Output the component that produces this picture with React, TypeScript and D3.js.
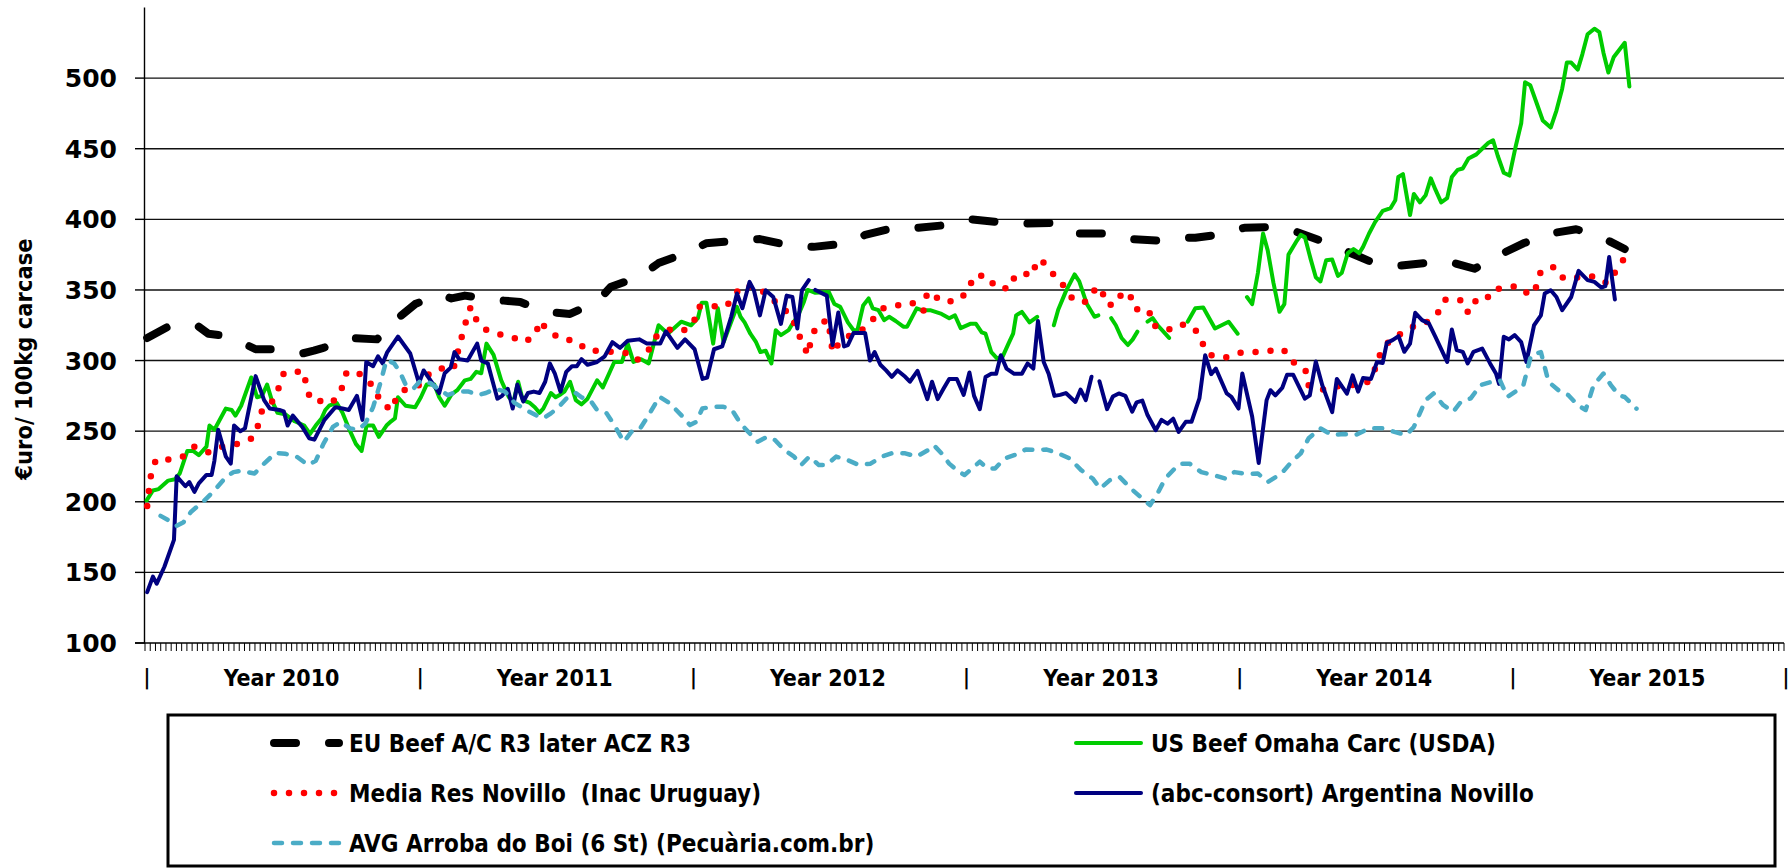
import React from "react";
import * as d3 from "d3";

// time is given in years since Jan 2010 (weekly data)
const yearLabels = ["Year 2010", "Year 2011", "Year 2012", "Year 2013", "Year 2014", "Year 2015"];
const yTicks = [100, 150, 200, 250, 300, 350, 400, 450, 500];

const euBeef = [
  [0.008, 316], [0.085, 324], [0.19, 325], [0.232, 319], [0.275, 318], [0.373, 311], [0.405, 308], [0.464, 308],
  [0.576, 305], [0.618, 307], [0.653, 309], [0.751, 316], [0.849, 315], [0.926, 330], [0.989, 340], [1.08, 347],
  [1.122, 344], [1.171, 346], [1.276, 343], [1.374, 341.5], [1.465, 334.5], [1.556, 333], [1.655, 341.5], [1.704, 352],
  [1.816, 360], [1.88, 369], [1.991, 377], [2.054, 383], [2.18, 385], [2.251, 386], [2.37, 381], [2.447, 380.5],
  [2.573, 383], [2.636, 389], [2.741, 394], [2.825, 394], [2.937, 396], [3.021, 400], [3.126, 398], [3.217, 397],
  [3.329, 397.5], [3.406, 390], [3.518, 390], [3.602, 386], [3.707, 385], [3.788, 387], [3.845, 387], [3.924, 389],
  [4.024, 394], [4.11, 394.5], [4.217, 391], [4.303, 385], [4.403, 377], [4.488, 370], [4.588, 367], [4.681, 369],
  [4.774, 370], [4.867, 365], [4.96, 375], [5.046, 383], [5.146, 390], [5.239, 393], [5.331, 387.5], [5.417, 379],
];

const usBeef = [
  [0.006, 201], [0.029, 208], [0.05, 209], [0.085, 215], [0.11, 216], [0.127, 220], [0.155, 236], [0.176, 236],
  [0.197, 233], [0.225, 239], [0.236, 254], [0.254, 251], [0.296, 266], [0.317, 265], [0.331, 261], [0.352, 268],
  [0.389, 288], [0.41, 274], [0.428, 275], [0.447, 283], [0.464, 272], [0.485, 263], [0.513, 262], [0.548, 257],
  [0.583, 254], [0.604, 248], [0.625, 254], [0.646, 259], [0.66, 265], [0.674, 268], [0.702, 270], [0.723, 263],
  [0.746, 252], [0.772, 241], [0.793, 236], [0.811, 254], [0.835, 254], [0.856, 246], [0.884, 254], [0.901, 257],
  [0.915, 259], [0.926, 274], [0.954, 268], [0.989, 267], [1.01, 274], [1.031, 283], [1.059, 283], [1.077, 274],
  [1.097, 268], [1.122, 276], [1.143, 279], [1.171, 286], [1.192, 287], [1.213, 292], [1.231, 291], [1.25, 312],
  [1.276, 304], [1.304, 286], [1.332, 274], [1.349, 271], [1.366, 285], [1.383, 272], [1.409, 270], [1.427, 267],
  [1.444, 263], [1.458, 266], [1.486, 277], [1.503, 274], [1.521, 276], [1.535, 278], [1.556, 285], [1.577, 272],
  [1.598, 269], [1.62, 273], [1.655, 286], [1.676, 281], [1.718, 299], [1.746, 299], [1.767, 312], [1.788, 299],
  [1.816, 301], [1.844, 298], [1.88, 325], [1.914, 319], [1.963, 327.5], [1.999, 325], [2.024, 330], [2.038, 341],
  [2.055, 341], [2.08, 312], [2.097, 337], [2.118, 313], [2.153, 331], [2.167, 338], [2.18, 331], [2.195, 327],
  [2.216, 319], [2.237, 313], [2.253, 306], [2.272, 307], [2.293, 298], [2.309, 321.5], [2.328, 318], [2.356, 321.5],
  [2.37, 326], [2.391, 332], [2.412, 341.5], [2.426, 350], [2.454, 348], [2.503, 348.6], [2.524, 340], [2.545, 338],
  [2.573, 327], [2.594, 321.5], [2.608, 321.5], [2.629, 339], [2.649, 344], [2.664, 337], [2.685, 335.7], [2.706, 328.6],
  [2.724, 331], [2.748, 328], [2.776, 324], [2.79, 324], [2.825, 337], [2.843, 335.7], [2.874, 335.7], [2.916, 333],
  [2.944, 330], [2.965, 332], [2.986, 323], [3.021, 326], [3.042, 326], [3.063, 320], [3.077, 319], [3.098, 306],
  [3.119, 301.5], [3.14, 303], [3.161, 312], [3.178, 319], [3.189, 332], [3.21, 334.5], [3.238, 327], [3.266, 331],
  [3.29, null],
  [3.327, 325], [3.343, 336], [3.371, 349], [3.403, 361], [3.42, 356], [3.448, 340], [3.476, 331], [3.49, 332],
  [3.51, null],
  [3.537, 330], [3.554, 325], [3.575, 316], [3.598, 311], [3.616, 315], [3.633, 320.5],
  [3.65, null],
  [3.67, 327.5], [3.689, 330], [3.707, 325], [3.749, 316],
  [3.78, null],
  [3.817, 327.5], [3.845, 337], [3.874, 337.6], [3.917, 322.7], [3.967, 327.5], [4.0, 319],
  [4.02, null],
  [4.034, 345], [4.053, 340], [4.074, 362], [4.093, 390], [4.11, 378], [4.131, 355], [4.153, 334.5], [4.171, 340],
  [4.186, 375], [4.217, 385], [4.231, 389], [4.246, 387.5], [4.267, 372], [4.286, 359], [4.303, 356], [4.324, 371],
  [4.346, 371.5], [4.367, 360], [4.381, 362], [4.403, 376], [4.424, 379], [4.445, 376], [4.459, 380.5], [4.481, 390],
  [4.503, 398], [4.531, 406], [4.56, 408], [4.577, 413.5], [4.588, 430], [4.605, 432], [4.631, 403], [4.645, 418],
  [4.667, 412], [4.688, 417], [4.707, 429], [4.724, 421], [4.745, 412], [4.767, 415], [4.784, 430], [4.805, 435],
  [4.824, 436], [4.845, 443], [4.874, 446], [4.895, 450], [4.917, 454], [4.935, 456], [4.952, 445], [4.974, 433],
  [4.995, 431], [5.017, 451], [5.038, 468], [5.052, 497], [5.071, 495], [5.095, 482], [5.117, 470], [5.146, 465],
  [5.167, 477], [5.188, 492.5], [5.205, 511], [5.221, 511], [5.245, 506], [5.262, 517], [5.281, 531], [5.306, 535],
  [5.324, 532.5], [5.339, 518], [5.357, 504], [5.377, 515], [5.417, 525], [5.434, 494],
];

const uruguay = [
  [0.008, 197], [0.015, 209], [0.022, 219], [0.04, 230], [0.092, 230], [0.138, 232], [0.18, 239], [0.232, 235],
  [0.281, 239], [0.34, 241], [0.393, 245], [0.416, 255], [0.43, 266], [0.472, 272], [0.492, 282], [0.508, 291],
  [0.536, 292], [0.583, 292], [0.59, 281], [0.608, 272], [0.657, 271], [0.685, 270], [0.718, 279], [0.737, 291],
  [0.76, 293], [0.802, 289], [0.842, 280], [0.863, 270], [0.905, 265], [0.922, 275], [0.957, 280], [1.01, 283],
  [1.045, 292], [1.097, 295], [1.129, 294], [1.157, 315], [1.174, 327], [1.192, 338], [1.206, 331], [1.234, 323],
  [1.287, 319], [1.339, 317], [1.388, 313], [1.43, 318], [1.444, 328], [1.482, 320], [1.528, 315], [1.577, 314],
  [1.62, 307], [1.669, 307], [1.711, 306], [1.758, 305.5], [1.799, 300], [1.842, 307], [1.872, 317], [1.922, 322],
  [1.97, 321], [2.009, 327], [2.024, 338], [2.075, 338.5], [2.129, 338.5], [2.16, 347], [2.187, 353], [2.236, 352],
  [2.289, 345.6], [2.321, 338.5], [2.363, 332.6], [2.388, 321.5], [2.408, 311], [2.429, 304], [2.437, 315], [2.461, 325.7],
  [2.5, 328.6], [2.51, 317], [2.517, 305.7], [2.531, 310], [2.573, 317], [2.624, 321.5], [2.664, 329], [2.702, 337],
  [2.754, 339], [2.808, 341], [2.849, 334.5], [2.86, 345.6], [2.874, 349], [2.913, 342], [2.972, 342], [3.011, 348.6],
  [3.035, 360], [3.081, 360], [3.116, 351.5], [3.165, 351], [3.185, 360], [3.214, 362], [3.248, 360], [3.266, 371.5],
  [3.29, 369.4], [3.326, 361], [3.364, 352.7], [3.399, 342.7], [3.444, 341.5], [3.481, 351], [3.501, 351.7], [3.516, 340.4],
  [3.547, 339], [3.581, 348.6], [3.605, 347], [3.623, 336.4], [3.675, 335.7], [3.689, 325], [3.743, 321.5], [3.788, 326],
  [3.842, 323], [3.869, 313], [3.896, 304], [3.953, 302], [4.01, 305.5], [4.064, 306], [4.119, 307], [4.167, 308],
  [4.202, 299], [4.248, 293.6], [4.257, 282.6], [4.314, 279.5], [4.371, 282], [4.417, 282.6], [4.478, 285], [4.507, 295.5],
  [4.524, 306], [4.56, 315], [4.607, 320], [4.655, 325.5], [4.691, 327], [4.731, 333], [4.757, 343], [4.814, 343],
  [4.841, 334], [4.857, 342], [4.907, 342], [4.931, 350], [4.977, 351.7], [5.028, 352.7], [5.07, 346], [5.095, 352.7],
  [5.11, 363.5], [5.16, 366.4], [5.193, 358], [5.253, 359], [5.306, 359.7], [5.353, 354.6], [5.384, 363], [5.414, 372],
];

const argentina = [
  [0.008, 136], [0.029, 147], [0.043, 142], [0.071, 154], [0.106, 173], [0.116, 218], [0.148, 211], [0.162, 214],
  [0.181, 207], [0.197, 213], [0.225, 219], [0.244, 219], [0.254, 229], [0.268, 251], [0.296, 232], [0.314, 227],
  [0.326, 254], [0.349, 250], [0.366, 252], [0.405, 289], [0.436, 272], [0.457, 266], [0.492, 265], [0.508, 264],
  [0.522, 254], [0.541, 261], [0.576, 253], [0.601, 245], [0.62, 244], [0.657, 258], [0.697, 267], [0.723, 266],
  [0.746, 265], [0.776, 275], [0.796, 258], [0.81, 299], [0.835, 296], [0.853, 303], [0.87, 298], [0.887, 306],
  [0.926, 317], [0.971, 305], [1.003, 284], [1.02, 293], [1.052, 284], [1.077, 277], [1.097, 291], [1.119, 295],
  [1.133, 306], [1.15, 301], [1.181, 300], [1.216, 312], [1.231, 300], [1.255, 298], [1.273, 285], [1.29, 273],
  [1.307, 275], [1.328, 280], [1.346, 266], [1.363, 283], [1.385, 271], [1.402, 277], [1.423, 278], [1.444, 277],
  [1.465, 285], [1.482, 298], [1.5, 291], [1.521, 278], [1.542, 292], [1.563, 296], [1.581, 296], [1.598, 301],
  [1.62, 297], [1.655, 299], [1.683, 303], [1.711, 313], [1.739, 309], [1.767, 314], [1.809, 315], [1.837, 312],
  [1.886, 312], [1.907, 320.6], [1.949, 309], [1.977, 315], [2.012, 308], [2.041, 287], [2.058, 288], [2.083, 308],
  [2.113, 310], [2.146, 331], [2.167, 347.5], [2.187, 337], [2.213, 355.7], [2.229, 349.8], [2.251, 332], [2.272, 349.8],
  [2.3, 345], [2.328, 326], [2.349, 346], [2.37, 345], [2.388, 322.7], [2.405, 349.8], [2.43, 357],
  [2.442, null],
  [2.454, 350], [2.496, 346], [2.517, 311], [2.538, 334], [2.559, 310], [2.573, 311], [2.594, 319.6], [2.636, 319.6],
  [2.654, 300], [2.671, 306], [2.692, 297], [2.713, 293], [2.734, 288.5], [2.755, 293], [2.783, 288.5], [2.8, 285],
  [2.828, 292.7], [2.864, 272.7], [2.881, 285], [2.902, 272.7], [2.923, 280], [2.944, 287], [2.972, 287], [2.997, 275.7],
  [3.018, 291.6], [3.035, 275], [3.056, 265.6], [3.077, 288.3], [3.098, 290.6], [3.116, 290.6], [3.133, 303.8], [3.154, 294.3],
  [3.182, 290.6], [3.21, 290.6], [3.231, 298], [3.252, 294.3], [3.269, 328], [3.29, 299], [3.308, 290.6], [3.329, 275],
  [3.35, 275.7], [3.371, 277], [3.406, 270.7], [3.425, 279.5], [3.444, 272], [3.465, 288.5],
  [3.48, null],
  [3.494, 285.4], [3.522, 265.6], [3.543, 274.5], [3.565, 276.7], [3.589, 275], [3.614, 263.8], [3.63, 270.4], [3.651, 271.6],
  [3.67, 261.4], [3.7, 250.7], [3.721, 258], [3.743, 255.3], [3.764, 258.8], [3.784, 249.5], [3.81, 256.6], [3.831, 256.6],
  [3.86, 273.2], [3.881, 303.8], [3.903, 290.4], [3.92, 294.3], [3.96, 276.7], [3.977, 274.3], [4.003, 266], [4.017, 290.8],
  [4.053, 260.4], [4.077, 227.4], [4.106, 272], [4.12, 279], [4.138, 275.4], [4.163, 280.6], [4.181, 290], [4.203, 290],
  [4.246, 273], [4.264, 275.4], [4.286, 299.3], [4.31, 282.4], [4.346, 263.5], [4.363, 287], [4.4, 276.5], [4.421, 289.5],
  [4.441, 278], [4.459, 287.6], [4.488, 287], [4.51, 299], [4.531, 298.3], [4.546, 312.6], [4.567, 314.5], [4.589, 317.3],
  [4.61, 306.2], [4.631, 312], [4.65, 333.8], [4.675, 328.6], [4.7, 326.3], [4.724, 316.8], [4.767, 299], [4.784, 322],
  [4.802, 307.4], [4.824, 306.2], [4.842, 298], [4.863, 306.2], [4.895, 308.5], [4.924, 298], [4.946, 290.6], [4.957, 283.5],
  [4.974, 316.8], [4.993, 315], [5.014, 318], [5.038, 313], [5.057, 299], [5.085, 325], [5.11, 332], [5.124, 347.5],
  [5.146, 349.8], [5.167, 345], [5.188, 335.7], [5.221, 345], [5.248, 363.5], [5.281, 357], [5.306, 355.7], [5.331, 351.7],
  [5.346, 352.7], [5.36, 373.4], [5.381, 343.3],
];

const brazil = [
  [0.057, 190], [0.085, 187], [0.116, 183], [0.141, 185.5], [0.169, 193], [0.218, 201], [0.254, 208], [0.296, 217.5],
  [0.324, 221], [0.352, 222], [0.401, 220], [0.436, 227], [0.478, 234.6], [0.513, 234], [0.555, 232], [0.597, 226],
  [0.625, 229], [0.653, 241], [0.688, 253], [0.716, 256.6], [0.751, 252], [0.779, 250.7], [0.807, 255.5], [0.835, 267],
  [0.863, 285], [0.884, 300.5], [0.912, 298], [0.933, 292], [0.954, 283], [0.982, 280], [1.01, 286], [1.045, 284],
  [1.073, 280], [1.108, 275.6], [1.143, 278], [1.185, 278], [1.22, 275.6], [1.248, 277], [1.283, 280], [1.318, 278],
  [1.353, 270], [1.395, 265], [1.43, 261.4], [1.458, 259], [1.486, 262.6], [1.514, 267], [1.542, 273], [1.577, 277],
  [1.598, 274], [1.633, 271], [1.655, 265], [1.69, 262.6], [1.718, 254.3], [1.753, 242.5], [1.781, 249.6], [1.809, 250.8],
  [1.844, 261.4], [1.883, 274.4], [1.921, 269.7], [1.963, 261.4], [1.995, 254.3], [2.019, 256.7], [2.04, 266], [2.075, 267.3],
  [2.117, 267.3], [2.149, 265], [2.18, 255.5], [2.208, 249.6], [2.243, 242.5], [2.278, 246], [2.306, 243.7], [2.341, 236.6],
  [2.376, 232], [2.402, 226], [2.432, 232], [2.467, 226], [2.495, 226], [2.53, 232], [2.572, 229.5], [2.614, 226],
  [2.656, 227], [2.698, 232], [2.733, 234.3], [2.783, 234.3], [2.825, 232], [2.867, 236.6], [2.888, 240], [2.916, 234.3],
  [2.944, 227], [2.979, 221.3], [3.0, 219], [3.028, 223.6], [3.056, 228.4], [3.084, 223.6], [3.112, 223.6], [3.147, 230.7],
  [3.182, 233], [3.224, 237], [3.266, 236.6], [3.301, 237], [3.343, 234.3], [3.385, 230.7], [3.427, 222.4], [3.469, 216.5],
  [3.497, 209.4], [3.532, 215.3], [3.567, 217.7], [3.609, 209.4], [3.651, 202.3], [3.679, 197.6], [3.707, 206], [3.735, 216.5],
  [3.77, 223.6], [3.788, 227], [3.824, 227], [3.867, 221], [3.91, 219], [3.953, 216.5], [3.988, 221], [4.038, 219.6],
  [4.074, 220], [4.11, 214], [4.16, 220], [4.196, 228], [4.231, 234.3], [4.26, 245], [4.303, 252], [4.346, 247.2],
  [4.388, 248], [4.431, 247.2], [4.481, 252], [4.531, 252], [4.574, 249.5], [4.617, 247.2], [4.645, 253], [4.688, 272],
  [4.717, 276.7], [4.753, 268.4], [4.789, 263.7], [4.817, 270.8], [4.853, 273.2], [4.889, 282.6], [4.931, 285], [4.96, 286],
  [4.988, 274.3], [5.017, 278], [5.046, 282.6], [5.074, 303.8], [5.11, 306], [5.138, 285], [5.174, 279], [5.21, 275.6],
  [5.245, 268.4], [5.274, 265], [5.303, 282.6], [5.339, 290.8], [5.367, 282.4], [5.396, 275.4], [5.417, 274.2], [5.46, 265.9],
];

const series = [
  { name: "EU Beef A/C R3 later ACZ R3", data: euBeef, color: "#000000", width: 8, dash: "22 33" },
  { name: "US Beef Omaha Carc (USDA)", data: usBeef, color: "#00cc00", width: 4, dash: null },
  { name: "Media Res Novillo  (Inac Uruguay)", data: uruguay, color: "#ff0000", width: 6.5, dash: "0 15" },
  { name: "(abc-consort) Argentina Novillo", data: argentina, color: "#000080", width: 4, dash: null },
  { name: "AVG Arroba do Boi (6 St) (Pecuària.com.br)", data: brazil, color: "#4bacc6", width: 4.5, dash: "8 11" },
];

const FONT = "'DejaVu Sans Condensed', 'DejaVu Sans', sans-serif";

export default function App() {
  const W = 1792,
    H = 868;
  const x = d3.scaleLinear().domain([0, 6]).range([145, 1784]);
  const y = d3.scaleLinear().domain([100, 550]).range([643, 7.5]);
  const line = d3
    .line<any>()
    .defined((d) => d[1] != null)
    .x((d) => x(d[0]))
    .y((d) => y(d[1]));

  const weeks = d3.range(0, 314).map((i) => (i * 6) / 313);
  const legendCols = [270, 1072];
  const legendRows = [743, 793, 843];

  return (
    <svg width={W} height={H} style={{ position: "absolute", left: 0, top: 0, background: "#fff" }}>
      {/* grid */}
      {yTicks.slice(1).map((v) => (
        <line key={v} x1={x(0)} x2={x(6)} y1={y(v)} y2={y(v)} stroke="#111" strokeWidth={1.4} />
      ))}
      {/* y axis */}
      <line x1={x(0) - 0.5} x2={x(0) - 0.5} y1={y(550)} y2={y(100)} stroke="#000" strokeWidth={1.4} />
      {yTicks.map((v) => (
        <g key={v}>
          <line x1={135} x2={x(0)} y1={y(v)} y2={y(v)} stroke="#000" strokeWidth={1.4} />
          <text
            x={117}
            y={y(v) + 9}
            textAnchor="end"
            fontFamily="'DejaVu Sans', sans-serif"
            fontWeight="bold"
            fontSize={25}
          >
            {v}
          </text>
        </g>
      ))}
      {/* x axis */}
      <line x1={135} x2={x(6)} y1={y(100)} y2={y(100)} stroke="#000" strokeWidth={1.4} />
      {weeks.map((w, i) => (
        <line key={i} x1={x(w)} x2={x(w)} y1={y(100)} y2={y(100) + 8} stroke="#000" strokeWidth={1} />
      ))}
      {d3.range(0, 7).map((i) => (
        <text key={i} x={x(i) + 2} y={684} textAnchor="middle" fontFamily={FONT} fontWeight="bold" fontSize={21}>
          |
        </text>
      ))}
      {yearLabels.map((t, i) => (
        <text key={t} x={x(i + 0.5)} y={686} textAnchor="middle" fontFamily={FONT} fontWeight="bold" fontSize={23}>
          {t}
        </text>
      ))}
      <text
        transform={`translate(32,359) rotate(-90)`}
        textAnchor="middle"
        fontFamily={FONT}
        fontWeight="bold"
        fontSize={23.5}
      >
        €uro/ 100kg carcase
      </text>

      {/* series */}
      {series.map((s) => (
        <path
          key={s.name}
          d={line(s.data) || ""}
          fill="none"
          stroke={s.color}
          strokeWidth={s.width}
          strokeDasharray={s.dash || undefined}
          strokeLinecap="round"
          strokeLinejoin="round"
        />
      ))}

      {/* legend */}
      <rect x={168} y={715} width={1607} height={151} fill="none" stroke="#000" strokeWidth={3} />
      {series.map((s, i) => {
        const cx = legendCols[i % 2];
        const cy = legendRows[Math.floor(i / 2)];
        return (
          <g key={s.name}>
            <line
              x1={cx + 4}
              x2={cx + 69}
              y1={cy}
              y2={cy}
              stroke={s.color}
              strokeWidth={s.width}
              strokeDasharray={s.dash || undefined}
              strokeLinecap="round"
            />
            <text
              x={cx + 79}
              y={cy + 9}
              fontFamily={FONT}
              fontWeight="bold"
              fontSize={24}
              style={{ whiteSpace: "pre" }}
            >
              {s.name}
            </text>
          </g>
        );
      })}
    </svg>
  );
}
